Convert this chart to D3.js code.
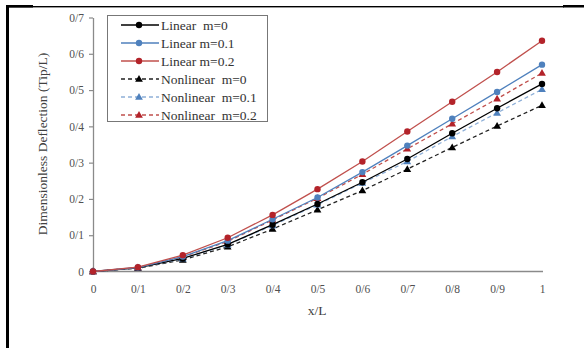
<!DOCTYPE html>
<html>
<head>
<meta charset="utf-8">
<script src="https://cdn.jsdelivr.net/npm/d3@7/dist/d3.min.js"></script>
<style>
  html, body { margin: 0; padding: 0; background: #fff; }
  svg { display: block; }
  text { font-family: "Liberation Serif", "Times New Roman", serif; }
</style>
</head>
<body>
<svg id="chart" width="584" height="348"></svg>
<script>
// Position along the beam
const xValues = [0, 0.1, 0.2, 0.3, 0.4, 0.5, 0.6, 0.7, 0.8, 0.9, 1.0];
const xTickLabels = ["0", "0/1", "0/2", "0/3", "0/4", "0/5", "0/6", "0/7", "0/8", "0/9", "1"];
const yTicks = [0, 0.1, 0.2, 0.3, 0.4, 0.5, 0.6, 0.7];
const yTickLabels = ["0", "0/1", "0/2", "0/3", "0/4", "0/5", "0/6", "0/7"];

// Dimensionless tip deflection for each model
const linearM0    = [0, 0.010, 0.036, 0.075, 0.129, 0.186, 0.246, 0.310, 0.381, 0.450, 0.517];
const linearM01   = [0, 0.011, 0.041, 0.085, 0.144, 0.204, 0.274, 0.347, 0.421, 0.495, 0.570];
const linearM02   = [0, 0.012, 0.045, 0.093, 0.156, 0.227, 0.303, 0.386, 0.468, 0.550, 0.636];
const nonlinearM0  = [0, 0.009, 0.032, 0.068, 0.117, 0.170, 0.223, 0.282, 0.342, 0.401, 0.458];
const nonlinearM01 = [0, 0.010, 0.035, 0.074, 0.127, 0.184, 0.244, 0.303, 0.372, 0.437, 0.502];
const nonlinearM02 = [0, 0.011, 0.040, 0.083, 0.142, 0.202, 0.268, 0.338, 0.407, 0.476, 0.547];

const seriesNames = ["Linear  m=0", "Linear m=0.1", "Linear m=0.2",
                     "Nonlinear  m=0", "Nonlinear  m=0.1", "Nonlinear  m=0.2"];

const series = [
  { name: seriesNames[0], values: linearM0,    line: "#000000", mark: "#000000", dash: null, shape: "circle" },
  { name: seriesNames[1], values: linearM01,   line: "#4f81bd", mark: "#4f81bd", dash: null, shape: "circle" },
  { name: seriesNames[2], values: linearM02,   line: "#c0504d", mark: "#b3232a", dash: null, shape: "circle" },
  { name: seriesNames[3], values: nonlinearM0,  line: "#222222", mark: "#000000", dash: "4,3", shape: "triangle" },
  { name: seriesNames[4], values: nonlinearM01, line: "#8fb0d8", mark: "#4f81bd", dash: "4,3", shape: "triangle" },
  { name: seriesNames[5], values: nonlinearM02, line: "#c0504d", mark: "#b3232a", dash: "4,3", shape: "triangle" }
];

const svg = d3.select("#chart");
svg.append("rect").attr("width", 584).attr("height", 348).attr("fill", "#fff");

// Page frame
svg.append("rect").attr("x", 6).attr("y", 5).attr("width", 3).attr("height", 343).attr("fill", "#000");
svg.append("rect").attr("x", 6).attr("y", 6).attr("width", 558).attr("height", 1.4).attr("fill", "#000");
svg.append("rect").attr("x", 6).attr("y", 5).attr("width", 27).attr("height", 2.5).attr("fill", "#000");
svg.append("rect").attr("x", 563).attr("y", 5).attr("width", 21).attr("height", 2.5).attr("fill", "#000");

const x = d3.scaleLinear().domain([0, 1]).range([93, 542]);
const y = d3.scaleLinear().domain([0, 0.7]).range([271.5, 17.5]);

const axisColor = "#8a8a8a";
const labelColor = "#505050";

// Y axis
const yAxis = d3.axisLeft(y).tickValues(yTicks)
  .tickFormat((d, i) => yTickLabels[i]).tickSize(4).tickSizeOuter(0).tickPadding(5);
const gy = svg.append("g").attr("transform", `translate(${x(0)},0)`).call(yAxis);
gy.select(".domain").attr("stroke", axisColor).attr("stroke-width", 1.3);
gy.selectAll(".tick line").attr("stroke", axisColor).attr("stroke-width", 1.2);
gy.selectAll(".tick text").attr("fill", labelColor).attr("font-size", 11.5)
  .attr("font-family", "Liberation Serif, serif");

// X axis
const xAxis = d3.axisBottom(x).tickValues(xValues)
  .tickFormat((d, i) => xTickLabels[i]).tickSize(0).tickSizeOuter(0).tickPadding(13);
const gx = svg.append("g").attr("transform", `translate(0,${y(0)})`).call(xAxis);
gx.select(".domain").attr("stroke", axisColor).attr("stroke-width", 1.3)
  .attr("d", `M${x(0)},0H${x(1) + 1}`);
gx.selectAll(".tick text").attr("fill", labelColor).attr("font-size", 11.5)
  .attr("font-family", "Liberation Serif, serif");

// Axis titles
svg.append("text")
  .attr("transform", `translate(47,144) rotate(-90)`)
  .attr("text-anchor", "middle")
  .attr("font-size", 13.5).attr("fill", "#404040")
  .text("Dimensionless Deflection (Tip/L)");
svg.append("text")
  .attr("x", 317).attr("y", 315)
  .attr("text-anchor", "middle")
  .attr("font-size", 13.5).attr("fill", "#404040")
  .text("x/L");

const line = d3.line().x((d, i) => x(xValues[i])).y(d => y(d));
const tri = d3.symbol().type(d3.symbolTriangle).size(26);

function drawMarker(g, s, cx, cy) {
  if (s.shape === "circle") {
    g.append("circle").attr("cx", cx).attr("cy", cy).attr("r", 3.2).attr("fill", s.mark);
  } else {
    g.append("path").attr("d", tri()).attr("transform", `translate(${cx},${cy + 0.5})`).attr("fill", s.mark);
  }
}

// Draw dashed series first, then solid lines on top
const order = [3, 4, 5, 0, 1, 2];
order.forEach(k => {
  const s = series[k];
  const g = svg.append("g");
  g.append("path").attr("d", line(s.values))
    .attr("fill", "none").attr("stroke", s.line).attr("stroke-width", 1.3)
    .attr("stroke-dasharray", s.dash);
  s.values.forEach((v, i) => drawMarker(g, s, x(xValues[i]), y(v)));
});

// Legend
const lg = svg.append("g");
lg.append("rect").attr("x", 107.5).attr("y", 15.5).attr("width", 160).attr("height", 106)
  .attr("fill", "#fff").attr("stroke", "#777").attr("stroke-width", 1);
series.forEach((s, i) => {
  const cy = 25 + i * 18;
  lg.append("line").attr("x1", 121).attr("x2", 159).attr("y1", cy).attr("y2", cy)
    .attr("stroke", s.line).attr("stroke-width", 1.3).attr("stroke-dasharray", s.dash);
  drawMarker(lg, s, 139, cy);
  lg.append("text").attr("x", 161).attr("y", cy + 4.5)
    .attr("font-size", 13.5).attr("fill", "#333")
    .style("white-space", "pre")
    .text(s.name);
});
</script>
</body>
</html>
